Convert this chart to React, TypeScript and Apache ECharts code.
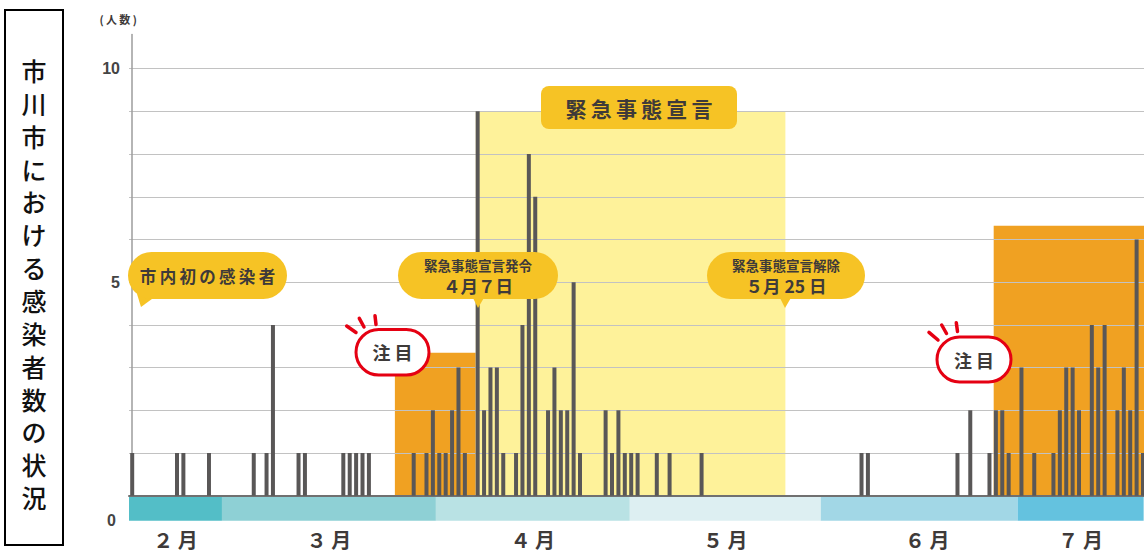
import React, { useEffect, useRef } from "react";
import * as echarts from "echarts";

// Day index 0 = first day shown; values = daily new cases
const caseDays = [0, 7, 8, 12, 19, 21, 22, 26, 27, 33, 34, 35, 36, 37, 44, 46, 47, 48, 49, 50, 51, 52, 54, 55, 56, 57, 58, 60, 61, 62, 63, 65, 66, 67, 68, 69, 70, 74, 75, 76, 77, 78, 79, 82, 84, 89, 114, 115, 129, 131, 134, 135, 136, 137, 139, 141, 144, 145, 146, 147, 148, 150, 151, 152, 154, 155, 156, 157, 158];
const caseCounts = [1, 1, 1, 1, 1, 1, 4, 1, 1, 1, 1, 1, 1, 1, 1, 1, 2, 1, 1, 2, 3, 1, 9, 2, 3, 3, 1, 1, 4, 8, 7, 2, 3, 2, 2, 5, 1, 2, 1, 2, 1, 1, 1, 1, 1, 1, 1, 1, 1, 2, 1, 2, 2, 1, 3, 1, 1, 2, 3, 3, 2, 4, 3, 4, 2, 3, 2, 6, 1];

// Month bands (day-index ranges)
const monthNames = ["２ 月", "３ 月", "４ 月", "５ 月", "６ 月", "７ 月"];
const monthStarts = [-0.5, 14.03, 47.47, 77.78, 107.63, 138.4];
const monthEnds = [14.03, 47.47, 77.78, 107.63, 138.4, 158.1];
const monthColors = ["#53BEC7", "#8ED0D5", "#B9E2E4", "#DDEFF2", "#A2D7E6", "#64C2DF"];

// Highlight periods: [startDay, endDay, height]
const periodStarts = [41.06, 53.7, 134.66];
const periodEnds = [53.7, 102.1, 160.5];
const periodHeights = [3.35, 9, 6.32];
const periodColors = ["#F0A122", "#FEF29A", "#F0A122"];

const yLabelValues = [5, 10];
const titleText = "市川市における感染者数の状況";

const JP = "'Noto Sans CJK JP', 'Noto Sans', sans-serif";
const TXT = "#3E3A39";
const YELLOW = "#F6C325";
const RED = "#E50012";
const THIN = "\u2009";
const spaced = (s: string) => s.split("").join(THIN);

function bubble(x: number, y: number, w: number, h: number, tail: number[][], texts: any[]) {
  return {
    type: "group",
    z: 100,
    children: [
      { type: "polygon", z: 100, shape: { points: tail }, style: { fill: YELLOW } },
      { type: "rect", z: 100, shape: { x, y, width: w, height: h, r: h / 2 }, style: { fill: YELLOW } },
      ...texts,
    ],
  };
}

function badge(x: number, y: number, w: number, h: number, rays: number[][]) {
  return {
    type: "group",
    z: 100,
    children: [
      ...rays.map((r) => ({
        type: "line",
        z: 100,
        shape: { x1: r[0], y1: r[1], x2: r[2], y2: r[3] },
        style: { stroke: RED, lineWidth: 3.5, lineCap: "round" },
      })),
      {
        type: "rect",
        z: 100,
        shape: { x, y, width: w, height: h, r: h / 2 },
        style: { fill: "#fff", stroke: RED, lineWidth: 3 },
      },
      {
        type: "text",
        z: 101,
        x: x + w / 2,
        y: y + h / 2,
        style: {
          text: "注 目",
          fontSize: 18,
          fontWeight: "bold",
          fontFamily: JP,
          fill: TXT,
          textAlign: "center",
          textVerticalAlign: "middle",
        },
      },
    ],
  };
}

function label(x: number, y: number, text: string, size: number) {
  return {
    type: "text",
    z: 101,
    x,
    y,
    style: { text, fontSize: size, fontWeight: "bold", fontFamily: JP, fill: TXT, textAlign: "center", textVerticalAlign: "middle" },
  };
}

export default function App() {
  const ref = useRef<HTMLDivElement>(null);
  useEffect(() => {
    if (!ref.current) return;
    const chart = echarts.init(ref.current, undefined, { renderer: "svg" });
    const barData = caseDays.map((d, i) => [d, caseCounts[i]]);
    const option: any = {
      animation: false,
      backgroundColor: "#fff",
      grid: [
        { left: 129, right: 0, top: 34.5, height: 461.2 },
        { left: 129, right: 0, top: 496.6, height: 24.2 },
      ],
      xAxis: [
        {
          type: "value",
          gridIndex: 0,
          min: -0.5,
          max: 160.5,
          z: 1,
          axisLine: { show: true, onZero: false, lineStyle: { color: "#707070", width: 2 } },
          axisTick: { show: false },
          axisLabel: { show: false },
          splitLine: { show: false },
        },
        { type: "value", gridIndex: 1, min: -0.5, max: 160.5, show: false },
      ],
      yAxis: [
        {
          type: "value",
          gridIndex: 0,
          min: 0,
          max: 10.8,
          interval: 1,
          z: 1,
          name: "( 人" + THIN + "数 )",
          nameLocation: "end",
          nameGap: 10,
          nameTextStyle: {
            fontSize: 11,
            fontWeight: "bold",
            fontFamily: JP,
            color: TXT,
            padding: [0, 28, 0, 0],
          },
          axisLine: { show: true, lineStyle: { color: "#9C9C9C", width: 1.5 } },
          axisTick: { show: false },
          splitLine: {
            show: true,
            showMinLine: false,
            showMaxLine: false,
            lineStyle: { color: "#C2C2C2", width: 1.2 },
          },
          axisLabel: {
            showMaxLabel: false,
            margin: 9,
            fontSize: 16,
            fontWeight: "bold",
            fontFamily: "'Liberation Sans', Arial, sans-serif",
            color: "#444",
            formatter: (v: number) => (yLabelValues.indexOf(v) >= 0 ? String(v) : ""),
          },
        },
        {
          type: "value",
          gridIndex: 1,
          min: 0,
          max: 1,
          axisLine: { show: false },
          axisTick: { show: false },
          splitLine: { show: false },
          axisLabel: {
            showMaxLabel: false,
            margin: 13,
            fontSize: 16,
            fontWeight: "bold",
            fontFamily: "'Liberation Sans', Arial, sans-serif",
            color: "#444",
            formatter: (v: number) => (v === 0 ? "0" : ""),
          },
        },
      ],
      series: [
        {
          type: "bar",
          name: "感染者数",
          xAxisIndex: 0,
          yAxisIndex: 0,
          data: barData,
          barWidth: 4,
          z: 2,
          itemStyle: { color: "#595757" },
          markArea: {
            silent: true,
            z: 0,
            label: { show: false },
            data: periodStarts.map((s, i) => [
              { xAxis: s, yAxis: 0, itemStyle: { color: periodColors[i], opacity: 1 } },
              { xAxis: periodEnds[i], yAxis: periodHeights[i] },
            ]),
          },
        },
        {
          type: "line",
          name: "months",
          xAxisIndex: 1,
          yAxisIndex: 1,
          data: [],
          markArea: {
            silent: true,
            label: {
              show: true,
              position: "bottom",
              distance: 9,
              fontSize: 20,
              fontWeight: "bold",
              fontFamily: JP,
              color: TXT,
            },
            data: monthNames.map((n, i) => [
              {
                name: n,
                xAxis: monthStarts[i],
                itemStyle: { color: monthColors[i], opacity: 1 },
                label: i === 4 ? { offset: [8, 0] } : {},
              },
              { xAxis: monthEnds[i] },
            ]),
          },
        },
      ],
      graphic: [
        {
          type: "rect",
          z: 100,
          shape: { x: 5, y: 10, width: 58, height: 535 },
          style: { fill: "#fff", stroke: "#000", lineWidth: 2 },
        },
        {
          type: "text",
          z: 101,
          x: 34,
          y: 53.6,
          style: {
            text: titleText.split("").join("\n"),
            fontSize: 25,
            fontWeight: 500,
            lineHeight: 32.85,
            fontFamily: JP,
            fill: "#111",
            textAlign: "center",
            textVerticalAlign: "top",
          },
        },
        bubble(128, 252, 159, 47, [[137, 294], [156, 296], [141, 307]], [label(207.5, 275.5, spaced("市内初の感染者"), 16.5)]),
        bubble(398, 252, 160, 47, [[472, 296], [485, 296], [478, 308]], [
          label(478, 264.5, "緊急事態宣言発令", 13.5),
          label(478, 285, "４月７日", 17.5),
        ]),
        bubble(707, 252, 158, 47, [[779, 296], [792, 296], [785, 308]], [
          label(786, 264.5, "緊急事態宣言解除", 13.5),
          label(786, 285, "５月 25 日", 17.5),
        ]),
        {
          type: "group",
          z: 100,
          children: [
            { type: "rect", z: 100, shape: { x: 541, y: 86, width: 196, height: 43, r: 8 }, style: { fill: YELLOW } },
            label(639, 107.5, spaced("緊急事態宣言"), 21),
          ],
        },
        badge(356, 329.5, 73, 45.5, [[346.7, 326, 356, 332.5], [359.3, 318.3, 364, 327], [375, 315.7, 376, 324.5]]),
        badge(937, 337, 74, 45, [[929, 332.3, 938, 340], [941.7, 325, 946.5, 333.5], [956.3, 322.7, 957.5, 331.5]]),
      ],
    };
    chart.setOption(option);
    return () => chart.dispose();
  }, []);
  return (
    <div style={{ position: "absolute", left: 0, top: 0, width: 1144, height: 553, overflow: "hidden" }}>
      <div ref={ref} style={{ width: 1159.4, height: 553 }} />
    </div>
  );
}
